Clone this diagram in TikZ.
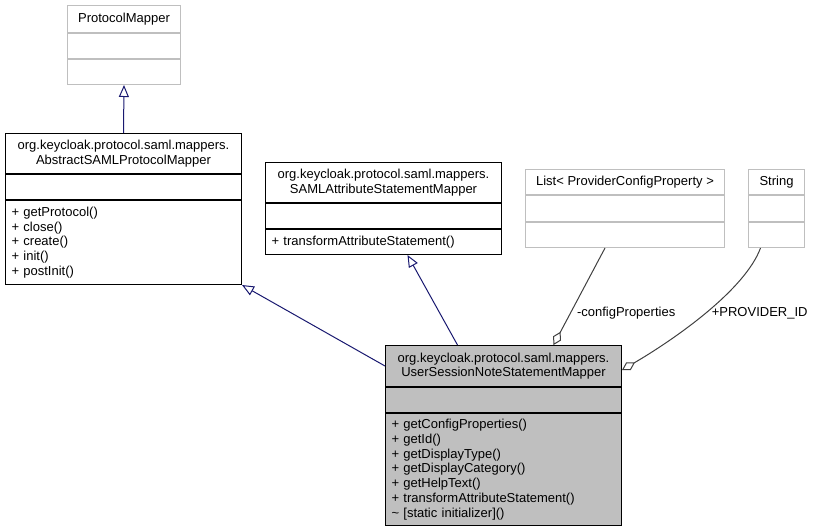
\documentclass[tikz,border=0pt]{standalone}
\usepackage{fontspec}
\setmainfont{Liberation Sans}
\usepackage{xcolor}
\usetikzlibrary{arrows.meta,positioning}
\definecolor{edgegray}{RGB}{191,191,191}
\definecolor{fillgray}{RGB}{191,191,191}
\definecolor{inhblue}{RGB}{25,25,112}
\definecolor{agggray}{RGB}{64,64,64}

\begin{document}
\begin{tikzpicture}[
      x=1pt, y=-1pt,
      font=\fontsize{13}{14.7}\selectfont,
      box/.style={draw, line width=1pt, fill=white, inner sep=0pt, anchor=north west},
      hdr/.style={box, align=center, minimum width=#1},
      mem/.style={box, align=left, inner xsep=6pt, text width=#1},
      ext/.style={draw=edgegray},
      inh/.style={draw=inhblue, line width=1pt, -{Triangle[open, length=12pt, width=10pt]}},
      agg/.style={draw=agggray, line width=1pt, {Diamond[open, length=15pt, width=9pt]}-},
      lbl/.style={inner sep=1pt}]
    \useasboundingbox (0,0) rectangle (813,531);
    % ProtocolMapper
    \node[hdr=113pt, ext, minimum height=27pt] (pmT) at (67,5) {ProtocolMapper};
    \node[hdr=113pt, ext, minimum height=25pt] (pmA) at (pmT.south west) {};
    \node[hdr=113pt, ext, minimum height=25pt] (pmM) at (pmA.south west) {};
    % AbstractSAMLProtocolMapper
    \node[hdr=236pt, minimum height=40pt] (absT) at (5,133) {org.keycloak.protocol.saml.mappers.\\AbstractSAMLProtocolMapper};
    \node[hdr=236pt, minimum height=25pt] (absA) at (absT.south west) {};
    \node[mem=224pt, minimum height=84pt] (absM) at (absA.south west)
      {+ getProtocol()\\+ close()\\+ create()\\+ init()\\+ postInit()};
    % SAMLAttributeStatementMapper
    \node[hdr=236pt, minimum height=40pt] (samlT) at (265,162) {org.keycloak.protocol.saml.mappers.\\SAMLAttributeStatementMapper};
    \node[hdr=236pt, minimum height=25pt] (samlA) at (samlT.south west) {};
    \node[mem=224pt, minimum height=25pt] (samlM) at (samlA.south west) {+ transformAttributeStatement()};
    % List< ProviderConfigProperty >
    \node[hdr=199pt, ext, minimum height=25pt] (listT) at (525,169) {List< ProviderConfigProperty >};
    \node[hdr=199pt, ext, minimum height=26pt] (listA) at (listT.south west) {};
    \node[hdr=199pt, ext, minimum height=25pt] (listM) at (listA.south west) {};
    % String
    \node[hdr=56pt, ext, minimum height=25pt] (strT) at (748,169) {String};
    \node[hdr=56pt, ext, minimum height=26pt] (strA) at (strT.south west) {};
    \node[hdr=56pt, ext, minimum height=25pt] (strM) at (strA.south west) {};
    % UserSessionNoteStatementMapper
    \node[hdr=236pt, fill=fillgray, minimum height=41pt] (usrT) at (385,345) {org.keycloak.protocol.saml.mappers.\\UserSessionNoteStatementMapper};
    \node[hdr=236pt, fill=fillgray, minimum height=25pt] (usrA) at (usrT.south west) {};
    \node[mem=224pt, fill=fillgray, minimum height=112pt, font=\fontsize{13}{14.8}\selectfont] (usrM) at (usrA.south west)
      {+ getConfigProperties()\\+ getId()\\+ getDisplayType()\\+ getDisplayCategory()\\+ getHelpText()\\+ transformAttributeStatement()\\\textasciitilde{} [static initializer]()};
    % connectors
    \draw[inh] (absT.north) -- (pmM.south);
    \draw[inh] (usrT.west) -- (absM.south east);
    \draw[inh] ([xshift=-46pt]usrT.north) -- ([xshift=24pt]samlM.south);
    \draw[agg] ([xshift=50pt]usrT.north) -- node[lbl, pos=0.33, right=5pt] {-configProperties} ([xshift=-20pt]listM.south);
    \draw[agg] ([yshift=-4pt]usrT.east) .. controls (675,339) and (745,290) .. node[lbl, pos=0.5, right=5pt] {+PROVIDER\_ID} ([xshift=-16pt]strM.south);
  \end{tikzpicture}
\end{document}
